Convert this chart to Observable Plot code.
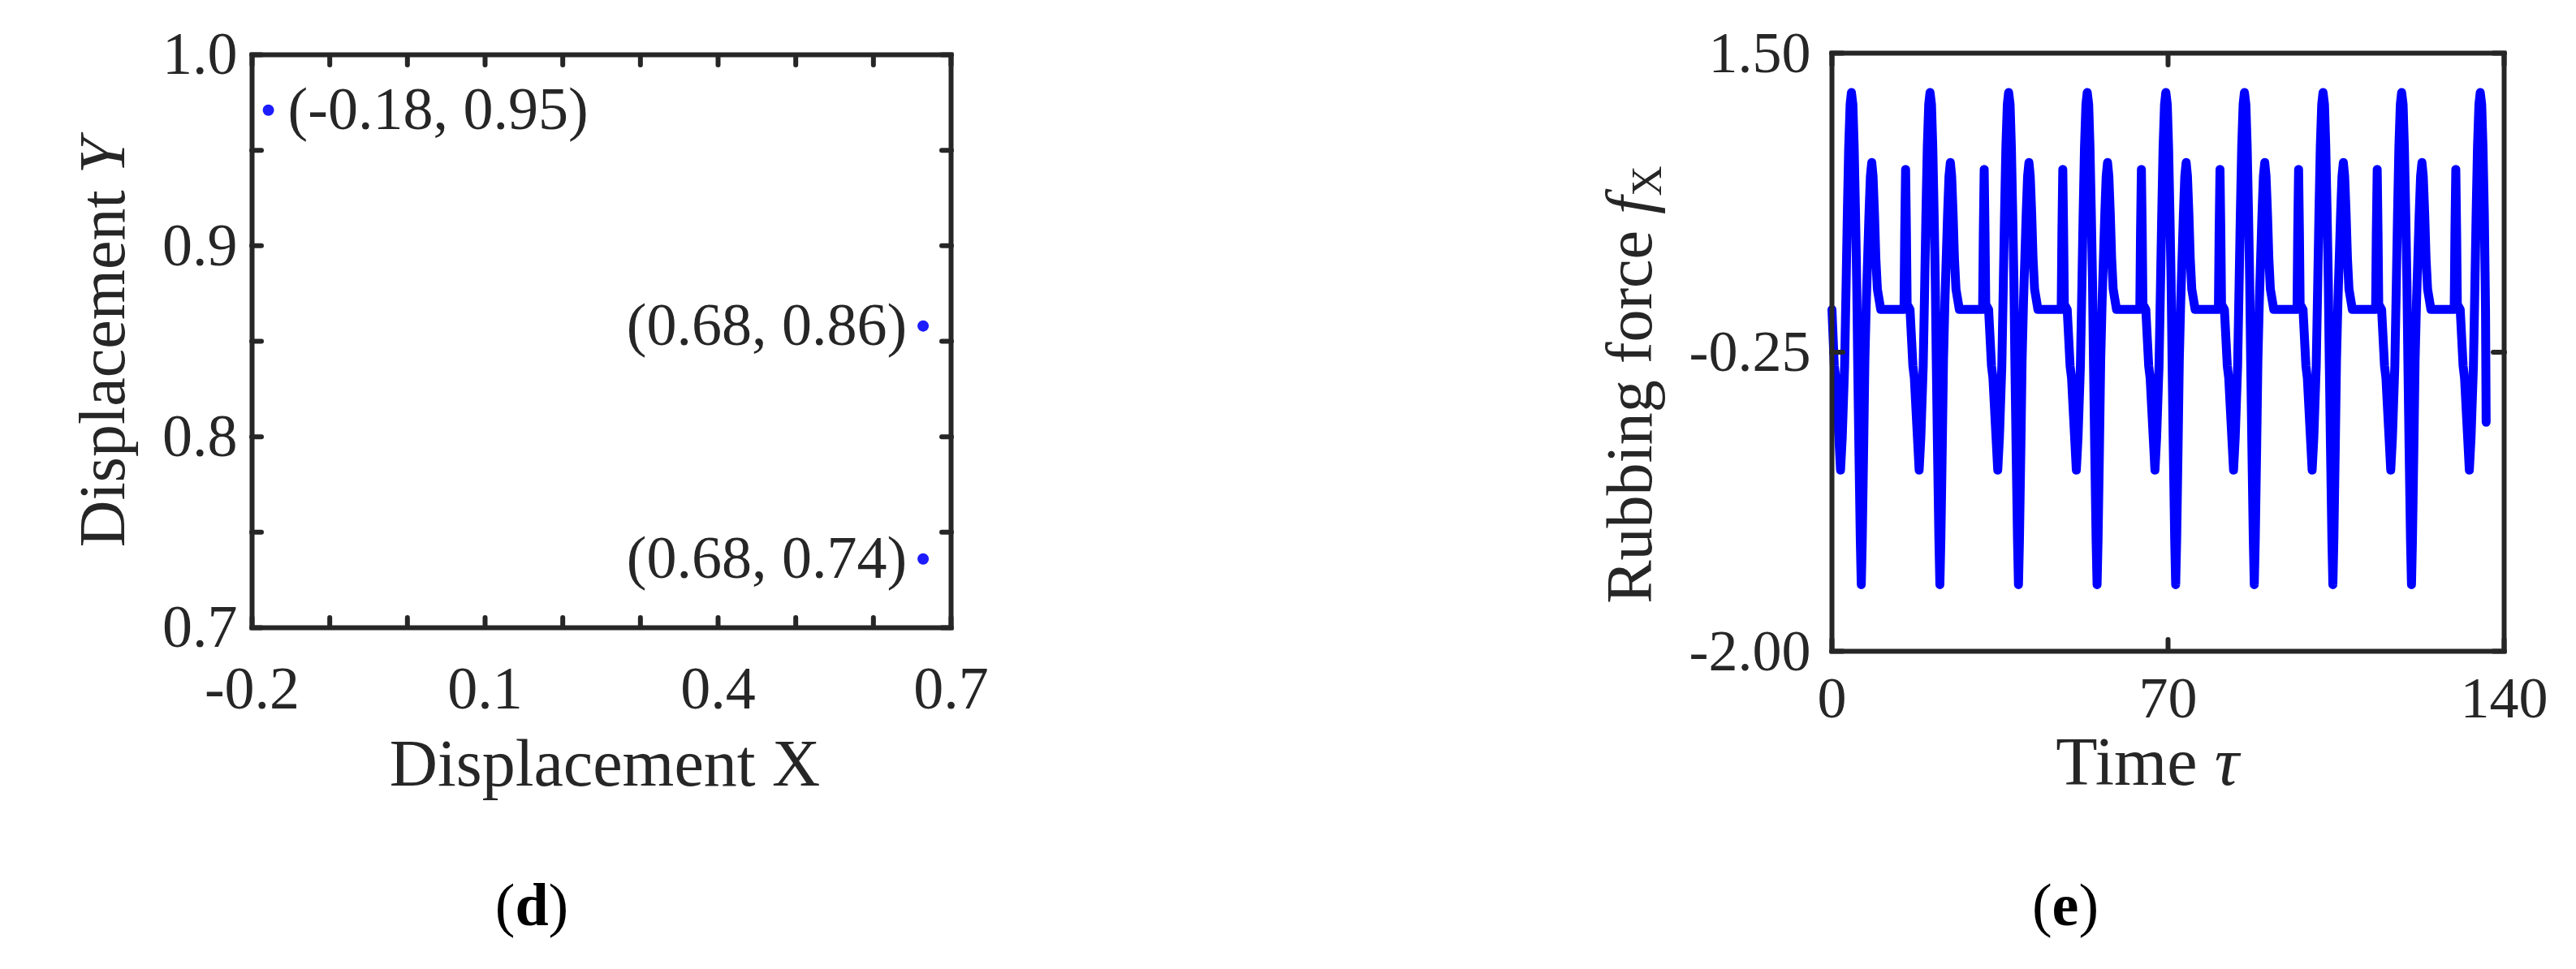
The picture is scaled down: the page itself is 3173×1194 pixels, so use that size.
<!DOCTYPE html>
<html>
<head>
<meta charset="utf-8">
<script src="https://cdn.jsdelivr.net/npm/d3@7"></script>
<script src="https://cdn.jsdelivr.net/npm/@observablehq/plot@0.6"></script>
<style>
  html, body { margin: 0; padding: 0; background: #ffffff; }
  #page { position: relative; width: 3173px; height: 1194px; overflow: hidden; background: #ffffff; }
  #page > svg { position: absolute; top: 0; }
</style>
</head>
<body>
<div id="page"></div>
<script>
// ---------------- Panel (d): Poincaré-type points ----------------
const pointX = [-0.179, 0.664, 0.664];
const pointY = [0.971, 0.858, 0.736];
const pointLabels = ["(-0.18, 0.95)", "(0.68, 0.86)", "(0.68, 0.74)"];
const labelOnRight = [true, false, false];

const dispXTicks = [-0.2, -0.1, 0, 0.1, 0.2, 0.3, 0.4, 0.5, 0.6, 0.7];
const dispXLabels = [-0.2, 0.1, 0.4, 0.7];
const dispYTicks = [0.7, 0.75, 0.8, 0.85, 0.9, 0.95, 1.0];
const dispYLabels = [0.7, 0.8, 0.9, 1.0];

// ---------------- Panel (e): rubbing force time series ----------------
const tau = [
  0.00, 0.49, 0.79, 1.44, 1.79, 2.14, 2.64, 2.96, 3.21, 3.49, 3.79,
  4.06, 4.36, 4.63, 4.91, 5.16, 5.36, 5.61, 5.91, 6.11, 6.31, 6.61, 6.86, 7.16, 7.44, 7.72, 8.01, 8.29, 8.56, 8.86, 9.14, 9.46, 10.16, 15.01, 15.16, 15.34, 15.51, 15.66, 16.26, 16.86, 17.16, 17.81, 18.16, 18.51, 19.01, 19.33, 19.58, 19.86, 20.16,
  20.43, 20.73, 21.00, 21.28, 21.53, 21.73, 21.98, 22.28, 22.48, 22.68, 22.98, 23.23, 23.53, 23.81, 24.09, 24.38, 24.66, 24.93, 25.23, 25.51, 25.83, 26.53, 31.38, 31.53, 31.71, 31.88, 32.03, 32.63, 33.23, 33.53, 34.18, 34.53, 34.88, 35.38, 35.70, 35.95, 36.23, 36.53,
  36.80, 37.10, 37.37, 37.65, 37.90, 38.10, 38.35, 38.65, 38.85, 39.05, 39.35, 39.60, 39.90, 40.18, 40.46, 40.75, 41.03, 41.30, 41.60, 41.88, 42.20, 42.90, 47.75, 47.90, 48.08, 48.25, 48.40, 49.00, 49.60, 49.90, 50.55, 50.90, 51.25, 51.75, 52.07, 52.32, 52.60, 52.90,
  53.17, 53.47, 53.74, 54.02, 54.27, 54.47, 54.72, 55.02, 55.22, 55.42, 55.72, 55.97, 56.27, 56.55, 56.83, 57.12, 57.40, 57.67, 57.97, 58.25, 58.57, 59.27, 64.12, 64.27, 64.45, 64.62, 64.77, 65.37, 65.97, 66.27, 66.92, 67.27, 67.62, 68.12, 68.44, 68.69, 68.97, 69.27,
  69.54, 69.84, 70.11, 70.39, 70.64, 70.84, 71.09, 71.39, 71.59, 71.79, 72.09, 72.34, 72.64, 72.92, 73.20, 73.49, 73.77, 74.04, 74.34, 74.62, 74.94, 75.64, 80.49, 80.64, 80.82, 80.99, 81.14, 81.74, 82.34, 82.64, 83.29, 83.64, 83.99, 84.49, 84.81, 85.06, 85.34, 85.64,
  85.91, 86.21, 86.48, 86.76, 87.01, 87.21, 87.46, 87.76, 87.96, 88.16, 88.46, 88.71, 89.01, 89.29, 89.57, 89.86, 90.14, 90.41, 90.71, 90.99, 91.31, 92.01, 96.86, 97.01, 97.19, 97.36, 97.51, 98.11, 98.71, 99.01, 99.66, 100.01, 100.36, 100.86, 101.18, 101.43, 101.71, 102.01,
  102.28, 102.58, 102.85, 103.13, 103.38, 103.58, 103.83, 104.13, 104.33, 104.53, 104.83, 105.08, 105.38, 105.66, 105.94, 106.23, 106.51, 106.78, 107.08, 107.36, 107.68, 108.38, 113.23, 113.38, 113.56, 113.73, 113.88, 114.48, 115.08, 115.38, 116.03, 116.38, 116.73, 117.23, 117.55, 117.80, 118.08, 118.38,
  118.65, 118.95, 119.22, 119.50, 119.75, 119.95, 120.20, 120.50, 120.70, 120.90, 121.20, 121.45, 121.75, 122.03, 122.31, 122.60, 122.88, 123.15, 123.45, 123.73, 124.05, 124.75, 129.60, 129.75, 129.93, 130.10, 130.25, 130.85, 131.45, 131.75, 132.40, 132.75, 133.10, 133.60, 133.92, 134.17, 134.45, 134.75,
  135.02, 135.32, 135.59, 135.87, 136.12, 136.25
];
const fx = [
  0.00, -0.33, -0.40, -0.75, -0.94, -0.75, -0.33, 0.16, 0.56, 0.95, 1.20,
  1.27, 1.20, 0.95, 0.56, 0.16, -0.30, -0.80, -1.35, -1.61, -1.35, -0.80, -0.30, 0.05, 0.30, 0.56, 0.78, 0.86, 0.78, 0.56, 0.30, 0.12, 0.00, 0.00, 0.45, 0.82, 0.45, 0.03, 0.00, -0.33, -0.40, -0.75, -0.94, -0.75, -0.33, 0.16, 0.56, 0.95, 1.20,
  1.27, 1.20, 0.95, 0.56, 0.16, -0.30, -0.80, -1.35, -1.61, -1.35, -0.80, -0.30, 0.05, 0.30, 0.56, 0.78, 0.86, 0.78, 0.56, 0.30, 0.12, 0.00, 0.00, 0.45, 0.82, 0.45, 0.03, 0.00, -0.33, -0.40, -0.75, -0.94, -0.75, -0.33, 0.16, 0.56, 0.95, 1.20,
  1.27, 1.20, 0.95, 0.56, 0.16, -0.30, -0.80, -1.35, -1.61, -1.35, -0.80, -0.30, 0.05, 0.30, 0.56, 0.78, 0.86, 0.78, 0.56, 0.30, 0.12, 0.00, 0.00, 0.45, 0.82, 0.45, 0.03, 0.00, -0.33, -0.40, -0.75, -0.94, -0.75, -0.33, 0.16, 0.56, 0.95, 1.20,
  1.27, 1.20, 0.95, 0.56, 0.16, -0.30, -0.80, -1.35, -1.61, -1.35, -0.80, -0.30, 0.05, 0.30, 0.56, 0.78, 0.86, 0.78, 0.56, 0.30, 0.12, 0.00, 0.00, 0.45, 0.82, 0.45, 0.03, 0.00, -0.33, -0.40, -0.75, -0.94, -0.75, -0.33, 0.16, 0.56, 0.95, 1.20,
  1.27, 1.20, 0.95, 0.56, 0.16, -0.30, -0.80, -1.35, -1.61, -1.35, -0.80, -0.30, 0.05, 0.30, 0.56, 0.78, 0.86, 0.78, 0.56, 0.30, 0.12, 0.00, 0.00, 0.45, 0.82, 0.45, 0.03, 0.00, -0.33, -0.40, -0.75, -0.94, -0.75, -0.33, 0.16, 0.56, 0.95, 1.20,
  1.27, 1.20, 0.95, 0.56, 0.16, -0.30, -0.80, -1.35, -1.61, -1.35, -0.80, -0.30, 0.05, 0.30, 0.56, 0.78, 0.86, 0.78, 0.56, 0.30, 0.12, 0.00, 0.00, 0.45, 0.82, 0.45, 0.03, 0.00, -0.33, -0.40, -0.75, -0.94, -0.75, -0.33, 0.16, 0.56, 0.95, 1.20,
  1.27, 1.20, 0.95, 0.56, 0.16, -0.30, -0.80, -1.35, -1.61, -1.35, -0.80, -0.30, 0.05, 0.30, 0.56, 0.78, 0.86, 0.78, 0.56, 0.30, 0.12, 0.00, 0.00, 0.45, 0.82, 0.45, 0.03, 0.00, -0.33, -0.40, -0.75, -0.94, -0.75, -0.33, 0.16, 0.56, 0.95, 1.20,
  1.27, 1.20, 0.95, 0.56, 0.16, -0.30, -0.80, -1.35, -1.61, -1.35, -0.80, -0.30, 0.05, 0.30, 0.56, 0.78, 0.86, 0.78, 0.56, 0.30, 0.12, 0.00, 0.00, 0.45, 0.82, 0.45, 0.03, 0.00, -0.33, -0.40, -0.75, -0.94, -0.75, -0.33, 0.16, 0.56, 0.95, 1.20,
  1.27, 1.20, 0.95, 0.56, 0.00, -0.66
];
const timeTicks = [0, 70, 140];
const forceTicks = [-2.0, -0.25, 1.5];

// ---------------- Rendering ----------------
const ink = "#262626";
const font = "'Liberation Serif', 'Times New Roman', serif";
const page = document.getElementById("page");

const idx = pointX.map((_, i) => i);

const left = Plot.plot({
  width: 1300, height: 1000,
  marginLeft: 310, marginRight: 129, marginTop: 67, marginBottom: 227,
  x: {domain: [-0.2, 0.7]},
  y: {domain: [0.7, 1.0]},
  style: {fontFamily: font, fontSize: "74px", color: ink, background: "transparent", overflow: "visible"},
  marks: [
    Plot.axisX({anchor: "bottom", ticks: dispXTicks, tickSize: -12, tickFormat: () => "", strokeWidth: 6, strokeLinecap: "round", label: null}),
    Plot.axisX({anchor: "top", ticks: dispXTicks, tickSize: -12, tickFormat: () => "", strokeWidth: 6, strokeLinecap: "round", label: null}),
    Plot.axisY({anchor: "left", ticks: dispYTicks, tickSize: -12, tickFormat: () => "", strokeWidth: 6, strokeLinecap: "round", label: null}),
    Plot.axisY({anchor: "right", ticks: dispYTicks, tickSize: -12, tickFormat: () => "", strokeWidth: 6, strokeLinecap: "round", label: null}),
    Plot.axisX({anchor: "bottom", ticks: dispXLabels, tickSize: 0, tickPadding: 47, tickFormat: d => d.toFixed(1), label: null}),
    Plot.axisY({anchor: "left", ticks: dispYLabels, tickSize: 0, tickPadding: 18, tickFormat: d => d.toFixed(1), label: null}),
    Plot.frame({stroke: ink, strokeWidth: 6}),
    Plot.dot(idx, {x: i => pointX[i], y: i => pointY[i], r: 7, fill: "#1c1cff", stroke: "none"}),
    Plot.text(idx.filter(i => labelOnRight[i]), {x: i => pointX[i], y: i => pointY[i], text: i => pointLabels[i], textAnchor: "start", dx: 24, fill: ink}),
    Plot.text(idx.filter(i => !labelOnRight[i]), {x: i => pointX[i], y: i => pointY[i], text: i => pointLabels[i], textAnchor: "end", dx: -20, fill: ink})
  ]
});
left.style.left = "0px";
page.appendChild(left);

const right = Plot.plot({
  width: 1073, height: 1000,
  marginLeft: 156, marginRight: 89, marginTop: 65, marginBottom: 198,
  x: {domain: [0, 140]},
  y: {domain: [-2.0, 1.5]},
  style: {fontFamily: font, fontSize: "72px", color: ink, background: "transparent", overflow: "visible"},
  marks: [
    Plot.line(fx, {x: tau, y: fx, stroke: "#0000ff", strokeWidth: 11, strokeLinejoin: "round", strokeLinecap: "round"}),
    Plot.axisX({anchor: "bottom", ticks: timeTicks, tickSize: -14, tickFormat: () => "", strokeWidth: 6, strokeLinecap: "round", label: null}),
    Plot.axisX({anchor: "top", ticks: timeTicks, tickSize: -14, tickFormat: () => "", strokeWidth: 6, strokeLinecap: "round", label: null}),
    Plot.axisY({anchor: "left", ticks: forceTicks, tickSize: -14, tickFormat: () => "", strokeWidth: 6, strokeLinecap: "round", label: null}),
    Plot.axisY({anchor: "right", ticks: forceTicks, tickSize: -14, tickFormat: () => "", strokeWidth: 6, strokeLinecap: "round", label: null}),
    Plot.axisX({anchor: "bottom", ticks: timeTicks, tickSize: 0, tickPadding: 30, tickFormat: d => String(d), label: null}),
    Plot.axisY({anchor: "left", ticks: forceTicks, tickSize: 0, tickPadding: 26, tickFormat: d => d.toFixed(2), label: null}),
    Plot.frame({stroke: ink, strokeWidth: 6})
  ]
});
right.style.left = "2100px";
page.appendChild(right);

// Axis titles and panel captions
const ov = d3.select(page).append("svg")
  .attr("width", 3173).attr("height", 1194)
  .style("left", "0px").style("pointer-events", "none")
  .attr("font-family", font);

const t1 = ov.append("text").attr("transform", "translate(153,422) rotate(-90)")
  .attr("text-anchor", "middle").attr("font-size", 80).attr("fill", ink);
t1.append("tspan").text("Displacement ");
t1.append("tspan").attr("font-style", "italic").text("Y");

ov.append("text").attr("x", 745).attr("y", 968).attr("text-anchor", "middle")
  .attr("font-size", 82).attr("fill", ink).text("Displacement X");

const t3 = ov.append("text").attr("transform", "translate(2034,474) rotate(-90)")
  .attr("text-anchor", "middle").attr("font-size", 80).attr("fill", ink);
t3.append("tspan").text("Rubbing force ");
t3.append("tspan").attr("font-style", "italic").text("f");
t3.append("tspan").attr("font-size", 52).attr("dy", 12).text("X");

const t4 = ov.append("text").attr("x", 2645).attr("y", 967).attr("text-anchor", "middle")
  .attr("font-size", 84).attr("fill", ink);
t4.append("tspan").text("Time ");
t4.append("tspan").attr("font-style", "italic").text("τ");

function caption(x, letter) {
  const c = ov.append("text").attr("x", x).attr("y", 1140).attr("text-anchor", "middle")
    .attr("font-size", 74).attr("fill", "#000");
  c.append("tspan").text("(");
  c.append("tspan").attr("font-weight", "bold").text(letter);
  c.append("tspan").text(")");
}
caption(655, "d");
caption(2544, "e");
</script>
</body>
</html>
